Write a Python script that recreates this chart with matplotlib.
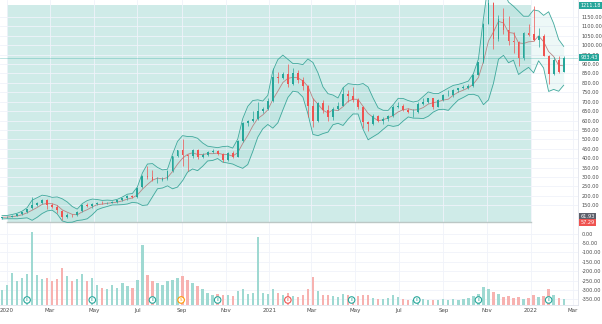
import matplotlib
matplotlib.use("Agg")
import matplotlib.pyplot as plt
import matplotlib.dates as mdates
import numpy as np
import pandas as pd

# weekly candles (mid-week date), late Dec 2019 to mid Feb 2022
week_mid = pd.date_range("2019-12-25", periods=113, freq="7D")

opens = [80, 86, 88, 95, 102, 113, 135, 149, 160, 178,
         150, 142, 120, 86, 100, 96, 118, 150, 145, 155,
         164, 160, 163, 167, 177, 187, 200, 192, 245, 308,
         300, 283, 286, 290, 330, 410, 444, 418, 412, 442,
         407, 415, 434, 439, 420, 388, 429, 408, 490, 585,
         599, 609, 650, 661, 705, 830, 826, 846, 793, 852,
         816, 781, 675, 597, 693, 654, 618, 661, 677, 739,
         729, 709, 672, 590, 580, 625, 600, 610, 623, 672,
         678, 656, 644, 644, 688, 700, 717, 673, 711, 733,
         736, 760, 774, 775, 785, 843, 910, 1114, 1222, 1033,
         1137, 1081, 1020, 1017, 932, 1067, 1060, 1026, 1049, 943,
         846, 923, 860]
highs = [88, 92, 98, 104, 115, 132, 194, 165, 184, 182,
         160, 150, 124, 108, 105, 118, 155, 160, 162, 166,
         170, 167, 170, 180, 190, 202, 204, 245, 310, 358,
         335, 300, 300, 335, 412, 445, 502, 420, 450, 450,
         430, 440, 448, 445, 425, 435, 440, 495, 590, 602,
         650, 700, 670, 718, 880, 860, 860, 900, 880, 870,
         830, 790, 720, 700, 710, 680, 670, 700, 780, 760,
         780, 720, 675, 600, 635, 630, 620, 630, 680, 700,
         690, 665, 660, 700, 720, 720, 720, 715, 740, 760,
         765, 775, 790, 795, 845, 910, 1120, 1243, 1230, 1160,
         1200, 1155, 1070, 1020, 1070, 1110, 1208, 1090, 1060, 950,
         935, 940, 945]
lows = [78, 84, 87, 93, 100, 108, 132, 145, 158, 130,
        138, 110, 72, 80, 90, 94, 116, 140, 138, 150,
        155, 156, 160, 164, 172, 180, 188, 190, 244, 290,
        280, 270, 280, 284, 328, 405, 356, 330, 400, 395,
        400, 410, 425, 415, 380, 385, 400, 405, 485, 570,
        590, 605, 640, 655, 700, 800, 820, 780, 790, 800,
        760, 620, 563, 590, 640, 600, 605, 655, 675, 700,
        700, 660, 560, 546, 575, 590, 580, 600, 620, 665,
        650, 640, 620, 640, 680, 695, 660, 670, 705, 730,
        725, 750, 770, 770, 780, 840, 905, 1110, 978, 1020,
        1060, 1000, 960, 890, 920, 1050, 1020, 990, 940, 792,
        840, 850, 855]
closes = [86, 88, 95, 102, 113, 130, 149, 160, 180, 150,
          142, 125, 86, 100, 96, 115, 150, 145, 155, 164,
          160, 163, 167, 177, 187, 200, 192, 241, 308, 300,
          283, 286, 290, 330, 410, 442, 418, 412, 442, 407,
          415, 434, 439, 420, 388, 429, 408, 490, 585, 599,
          609, 650, 661, 705, 830, 826, 846, 793, 852, 816,
          781, 675, 597, 693, 654, 618, 661, 677, 739, 729,
          709, 672, 590, 580, 625, 600, 610, 623, 672, 678,
          656, 644, 644, 688, 700, 717, 673, 711, 733, 736,
          760, 774, 775, 785, 843, 910, 1114, 1222, 1033, 1137,
          1081, 1020, 1017, 932, 1067, 1056, 1026, 1049, 943, 846,
          923, 860, 933.43]
# volume, millions
volumes = [60, 80, 130, 95, 110, 125, 292, 120, 105, 110,
           95, 105, 150, 115, 95, 105, 125, 95, 110, 80,
           70, 64, 80, 70, 90, 76, 70, 100, 240, 120,
           96, 90, 80, 96, 100, 108, 115, 100, 90, 76,
           64, 48, 40, 45, 40, 42, 36, 58, 64, 45,
           50, 272, 48, 45, 64, 50, 40, 48, 36, 32,
           40, 64, 112, 58, 40, 42, 36, 32, 45, 40,
           32, 36, 42, 40, 30, 26, 26, 30, 40, 32,
           26, 22, 22, 30, 26, 22, 20, 22, 26, 22,
           26, 22, 26, 30, 36, 45, 72, 64, 52, 45,
           32, 36, 30, 32, 26, 30, 40, 32, 36, 64,
           40, 30, 26]

# earnings (E) and split (S) events
event_dates = pd.to_datetime(["2020-01-29", "2020-04-29", "2020-07-22", "2020-08-31",
                              "2020-10-21", "2021-01-27", "2021-04-26", "2021-07-26",
                              "2021-10-20", "2022-01-26"])
event_letters = ["E", "E", "E", "S", "E", "E", "E", "E", "E", "E"]
event_colors = ["#26a69a", "#26a69a", "#26a69a", "#ff9800", "#26a69a",
                "#ef5350", "#26a69a", "#26a69a", "#26a69a", "#26a69a"]

rect_top = 1211.18
rect_bottom = 61.93
last_price = 933.43
vol_label = 57.29

tick_dates = pd.to_datetime(["2020-01-01", "2020-03-01", "2020-05-01", "2020-07-01",
                             "2020-09-01", "2020-11-01", "2021-01-01", "2021-03-01",
                             "2021-05-01", "2021-07-01", "2021-09-01", "2021-11-01",
                             "2022-01-01", "2022-03-01"])
tick_labels = ["2020", "Mar", "May", "Jul", "Sep", "Nov", "2021", "Mar",
               "May", "Jul", "Sep", "Nov", "2022", "Mar"]
price_ticks = [v for v in range(-350, 1151, 50) if v not in (50, 100)]

green = "#26a69a"
red = "#ef5350"

# bollinger bands, 4 weeks (~20 sessions); spread from the weeks' highs, lows, closes
cs = pd.Series(closes)
basis = cs.rolling(4, min_periods=1).mean()
dev = []
for i in range(len(closes)):
    j = max(0, i - 3)
    pool = highs[j:i + 1] + lows[j:i + 1] + closes[j:i + 1]
    dev.append(np.std(pool))
dev = np.array(dev)
upper = basis + 2 * dev
lower = basis - 2 * dev

fig = plt.figure(figsize=(6.02, 3.24), dpi=100)
ax = fig.add_axes([0, 19 / 324, 578 / 602, 305 / 324])

x = mdates.date2num(week_mid)
t0 = mdates.date2num(pd.Timestamp("2020-01-01"))
t1 = mdates.date2num(pd.Timestamp("2022-01-01"))
ax.set_xlim(t0 - 9.8, t0 + 797)
ax.set_ylim(-379.7, 1240)

# rectangle drawing
ax.fill_between([t0, t1], rect_bottom, rect_top, color=green, alpha=0.22, lw=0, zorder=0.5)
ax.plot([t0, t1], [rect_bottom, rect_bottom], color="#bcc7c5", lw=1.0, zorder=0.6)

ax.axhline(last_price, color=green, lw=0.6, alpha=0.35, zorder=0.7)

# bands
ax.fill_between(x, lower, upper, color=green, alpha=0.08, lw=0, zorder=1)
ax.plot(x, upper, color="#3fa89c", lw=0.6, zorder=1.2)
ax.plot(x, lower, color="#3fa89c", lw=0.6, zorder=1.2)
ax.plot(x, basis, color="#b98585", lw=0.6, zorder=1.2)

# candles
o = np.array(opens, dtype=float)
c = np.array(closes, dtype=float)
cols = [green if cc >= oo else red for oo, cc in zip(o, c)]
ax.vlines(x, lows, highs, colors=cols, lw=0.5, zorder=2)
ax.bar(x, np.maximum(np.abs(c - o), 2), bottom=np.minimum(o, c), width=2.6,
       color=cols, lw=0, zorder=2.1)

# volume on its own scale
ax2 = ax.twinx()
ax2.set_ylim(0, 1220)
vcols = ["#9fd9d2" if cc >= oo else "#f7b2b0" for oo, cc in zip(o, c)]
ax2.bar(x, volumes, width=3.2, color=vcols, lw=0, zorder=1)
ev_x = mdates.date2num(event_dates)
ax2.scatter(ev_x, [20] * len(ev_x), s=22, facecolor="white", edgecolor=event_colors,
            lw=0.8, zorder=3)
for ex, lt, ec in zip(ev_x, event_letters, event_colors):
    ax2.text(ex, 20, lt, color=ec, fontsize=2.8, ha="center", va="center", zorder=4)
ax2.set_yticks([])
for s in ax2.spines.values():
    s.set_visible(False)

# axes styling
ax.yaxis.tick_right()
ax.set_yticks(price_ticks)
ax.yaxis.set_major_formatter(plt.FormatStrFormatter("%.2f"))
ax.set_xticks(mdates.date2num(tick_dates))
ax.set_xticklabels(tick_labels)
ax.tick_params(axis="y", length=0, pad=2.5, labelsize=3.6, labelcolor="#4a4a4a")
ax.tick_params(axis="x", length=0, pad=2.5, labelsize=4, labelcolor="#4a4a4a")
ax.grid(color="#f0f3fa", lw=0.6, zorder=0)
ax.set_axisbelow(True)
for k in ["top", "left"]:
    ax.spines[k].set_visible(False)
ax.spines["right"].set_color("#e0e3eb")
ax.spines["bottom"].set_color("#e0e3eb")
ax.spines["right"].set_linewidth(0.6)
ax.spines["bottom"].set_linewidth(0.6)

# price scale labels
tr = ax.get_yaxis_transform()
for val, ypos, bg in [(rect_top, rect_top, green), (last_price, last_price, green),
                      (rect_bottom, 90, "#5d606b"), (vol_label, vol_label, red)]:
    ax.text(1.004, ypos, "%.2f" % val, transform=tr, fontsize=3.6, color="white",
            ha="left", va="center", clip_on=False, zorder=10,
            bbox=dict(boxstyle="square,pad=0.2", fc=bg, ec="none"))

fig.savefig("out.png", dpi=100)
